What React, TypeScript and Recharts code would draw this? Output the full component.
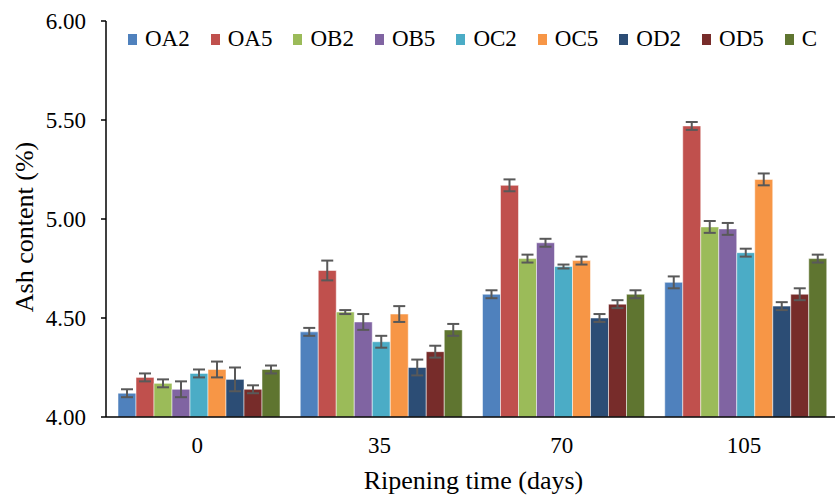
import React from 'react';
import { BarChart, Bar, XAxis, YAxis, Legend, ErrorBar, Label } from 'recharts';

const days = ['0', '35', '70', '105'];

const oa2 = [4.12, 4.43, 4.62, 4.68];
const oa5 = [4.2, 4.74, 5.17, 5.47];
const ob2 = [4.17, 4.53, 4.8, 4.96];
const ob5 = [4.14, 4.48, 4.88, 4.95];
const oc2 = [4.22, 4.38, 4.76, 4.83];
const oc5 = [4.24, 4.52, 4.79, 5.2];
const od2 = [4.19, 4.25, 4.5, 4.56];
const od5 = [4.14, 4.33, 4.57, 4.62];
const ctrl = [4.24, 4.44, 4.62, 4.8];

const oa2Err = [0.02, 0.02, 0.02, 0.03];
const oa5Err = [0.02, 0.05, 0.03, 0.02];
const ob2Err = [0.02, 0.01, 0.02, 0.03];
const ob5Err = [0.04, 0.04, 0.02, 0.03];
const oc2Err = [0.02, 0.03, 0.01, 0.02];
const oc5Err = [0.04, 0.04, 0.02, 0.03];
const od2Err = [0.06, 0.04, 0.02, 0.02];
const od5Err = [0.02, 0.03, 0.02, 0.03];
const ctrlErr = [0.02, 0.03, 0.02, 0.02];

const yTicks = [4, 4.5, 5, 5.5, 6];
const edgeTicks = [0, 1, 2, 3, 4];

const series = [
  { key: 'OA2', values: oa2, errors: oa2Err, color: '#4F81BD' },
  { key: 'OA5', values: oa5, errors: oa5Err, color: '#C0504D' },
  { key: 'OB2', values: ob2, errors: ob2Err, color: '#9BBB59' },
  { key: 'OB5', values: ob5, errors: ob5Err, color: '#8064A2' },
  { key: 'OC2', values: oc2, errors: oc2Err, color: '#4BACC6' },
  { key: 'OC5', values: oc5, errors: oc5Err, color: '#F79646' },
  { key: 'OD2', values: od2, errors: od2Err, color: '#2C4D75' },
  { key: 'OD5', values: od5, errors: od5Err, color: '#772C2A' },
  { key: 'C', values: ctrl, errors: ctrlErr, color: '#5F7530' },
];

const data = days.map((day, i) => {
  const row: any = { day };
  series.forEach((s) => {
    row[s.key] = s.values[i];
    row[s.key + '_err'] = s.errors[i];
  });
  return row;
});

const FONT = 'Liberation Serif, Times New Roman, serif';

const LegendContent = () => (
  <div style={{ display: 'flex', fontFamily: FONT, fontSize: 23, color: '#000', lineHeight: '24px' }}>
    {series.map((s) => (
      <div key={s.key} style={{ display: 'flex', alignItems: 'center', marginRight: 21 }}>
        <span style={{ display: 'inline-block', width: 9, height: 11, background: s.color, marginRight: 8 }} />
        <span style={{ fontFamily: FONT }}>{s.key}</span>
      </div>
    ))}
  </div>
);

const YTitle = (props: any) => {
  const { viewBox } = props;
  const x = viewBox.x + 24;
  const y = viewBox.y + viewBox.height / 2 + 8;
  return (
    <text
      x={x}
      y={y}
      transform={`rotate(-90, ${x}, ${y})`}
      textAnchor="middle"
      dominantBaseline="central"
      fontFamily={FONT}
      fontSize={26}
      fill="#000"
    >
      Ash content (%)
    </text>
  );
};

const XTitle = (props: any) => {
  const { viewBox } = props;
  return (
    <text
      x={viewBox.x + viewBox.width / 2 + 3}
      y={489}
      textAnchor="middle"
      fontFamily={FONT}
      fontSize={26}
      fill="#000"
    >
      Ripening time (days)
    </text>
  );
};

export default function App() {
  return (
    <div style={{ position: 'absolute', left: 0, top: 0, width: 835, height: 495, background: '#fff', fontFamily: FONT }}>
      <BarChart
        width={835}
        height={495}
        data={data}
        margin={{ top: 21, right: 0, bottom: 0, left: 0 }}
        barCategoryGap={12}
        barGap={0}
        style={{ fontFamily: FONT }}
      >
        <XAxis
          xAxisId="edge"
          type="number"
          domain={[0, 4]}
          ticks={edgeTicks}
          allowDataOverflow
          height={0}
          axisLine={false}
          tick={false}
          tickSize={8}
          tickLine={{ stroke: '#000', strokeWidth: 1.5 }}
        />
        <XAxis
          xAxisId="cat"
          dataKey="day"
          height={78}
          axisLine={{ stroke: '#000', strokeWidth: 1.5 }}
          tickLine={false}
          tickSize={0}
          tickMargin={20}
          tick={{ fill: '#000', fontSize: 23, fontFamily: FONT }}
        >
          <Label content={<XTitle />} />
        </XAxis>
        <YAxis
          width={106}
          domain={[4, 6]}
          ticks={yTicks}
          allowDataOverflow
          tickFormatter={(v: number) => v.toFixed(2)}
          axisLine={{ stroke: '#000', strokeWidth: 1.5 }}
          tickLine={{ stroke: '#000', strokeWidth: 1.5 }}
          tickSize={5}
          tickMargin={15}
          tick={{ fill: '#000', fontSize: 23, fontFamily: FONT }}
        >
          <Label content={<YTitle />} />
        </YAxis>
        <Legend
          verticalAlign="middle"
          align="center"
          layout="horizontal"
          content={<LegendContent />}
          wrapperStyle={{ position: 'absolute', top: 27, left: 128, width: 720, fontFamily: FONT }}
        />
        {series.map((s) => (
          <Bar
            key={s.key}
            xAxisId="cat"
            dataKey={s.key}
            fill={s.color}
            stroke="rgba(255,255,255,0.5)"
            strokeWidth={1}
            isAnimationActive={false}
          >
            <ErrorBar dataKey={s.key + '_err'} width={6} stroke="#595959" strokeWidth={2} direction="y" />
          </Bar>
        ))}
      </BarChart>
    </div>
  );
}
